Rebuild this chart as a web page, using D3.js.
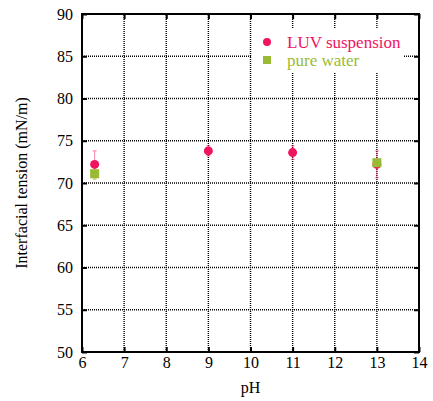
<!DOCTYPE html>
<html><head><meta charset="utf-8">
<script src="https://cdn.jsdelivr.net/npm/d3@7"></script>
<style>body{margin:0;background:#fff}svg{display:block}</style>
</head><body><svg id="c" width="433" height="401" font-family="'Liberation Serif', 'Times New Roman', Times, serif"></svg>
<script>
const xTicks = [6,7,8,9,10,11,12,13,14];
const yTicks = [50,55,60,65,70,75,80,85,90];
const luvPH = [6.3, 9, 11, 13];
const luvVal = [72.2, 73.8, 73.6, 72.2];
const luvErr = [1.6, 0.6, 0.8, 1.6];
const waterPH = [6.3, 13];
const waterVal = [71.1, 72.4];
const waterErr = [0.7, 0.4];
const seriesNames = ["LUV suspension", "pure water"];
const colors = ["#f0145f", "#99bb33"];
const FF = "'Liberation Serif', 'Times New Roman', Times, serif";

const svg = d3.select("#c");
const m = {l:82, r:14, t:14, b:49};
const W = 433, H = 401;
const x = d3.scaleLinear().domain([6,14]).range([m.l, W-m.r]);
const y = d3.scaleLinear().domain([50,90]).range([H-m.b, m.t]);

// grid
const g = svg.append("g");
g.selectAll(".gx").data(xTicks.slice(1,-1)).enter().append("line")
  .attr("x1",d=>x(d)).attr("x2",d=>x(d)).attr("y1",y(50)).attr("y2",y(90))
  .attr("stroke","#000").attr("stroke-width",1.4).attr("stroke-dasharray","1,1");
g.selectAll(".gy").data(yTicks.slice(1,-1)).enter().append("line")
  .attr("x1",x(6)).attr("x2",x(14)).attr("y1",d=>y(d)).attr("y2",d=>y(d))
  .attr("stroke","#000").attr("stroke-width",1.4).attr("stroke-dasharray","1,1");

// legend background
svg.append("rect").attr("x",252).attr("y",29).attr("width",152).attr("height",44).attr("fill","#fff");

// axes
const tk = 5;
function fixAxis(a){ a.select(".domain").remove(); a.attr("font-family",FF); }
svg.append("g").attr("transform",`translate(0,${y(50)})`)
  .call(d3.axisBottom(x).tickValues(xTicks).tickSize(-tk).tickPadding(5).tickSizeOuter(0))
  .call(fixAxis);
svg.append("g").attr("transform",`translate(0,${y(90)})`)
  .call(d3.axisTop(x).tickValues(xTicks).tickSize(-tk).tickFormat("").tickSizeOuter(0))
  .call(fixAxis);
svg.append("g").attr("transform",`translate(${x(6)},0)`)
  .call(d3.axisLeft(y).tickValues(yTicks).tickSize(-tk).tickPadding(9).tickSizeOuter(0))
  .call(fixAxis);
svg.append("g").attr("transform",`translate(${x(14)},0)`)
  .call(d3.axisRight(y).tickValues(yTicks).tickSize(-tk).tickFormat("").tickSizeOuter(0))
  .call(fixAxis);
svg.selectAll(".tick line").attr("stroke","#000").attr("stroke-width",2);
svg.selectAll(".tick text").attr("font-size",16).attr("fill","#000").attr("font-family",FF);
svg.append("rect").attr("x",x(6)).attr("y",y(90)).attr("width",x(14)-x(6)).attr("height",y(50)-y(90))
  .attr("fill","none").attr("stroke","#000").attr("stroke-width",2);

// error bars
function errBars(px, vals, errs, col){
  const eg = svg.append("g");
  px.forEach((p,i)=>{
    eg.append("line").attr("x1",x(p)).attr("x2",x(p)).attr("y1",y(vals[i]-errs[i])).attr("y2",y(vals[i]+errs[i]))
      .attr("stroke",col).attr("stroke-width",1).attr("opacity",0.5);
    [vals[i]-errs[i], vals[i]+errs[i]].forEach(v=>{
      eg.append("line").attr("x1",x(p)-2).attr("x2",x(p)+2).attr("y1",y(v)).attr("y2",y(v))
        .attr("stroke",col).attr("stroke-width",1).attr("opacity",0.5);
    });
  });
}
errBars(luvPH, luvVal, luvErr, colors[0]);
errBars(waterPH, waterVal, waterErr, colors[1]);

svg.append("g").selectAll("circle").data(luvPH).enter().append("circle")
  .attr("cx",d=>x(d)).attr("cy",(d,i)=>y(luvVal[i])).attr("r",4.5).attr("fill",colors[0]);
svg.append("g").selectAll("rect").data(waterPH).enter().append("rect")
  .attr("x",d=>x(d)-4.5).attr("y",(d,i)=>y(waterVal[i])-4.5).attr("width",9).attr("height",9).attr("fill",colors[1]);

// legend
svg.append("circle").attr("cx",267).attr("cy",42).attr("r",4).attr("fill",colors[0]);
svg.append("rect").attr("x",263).attr("y",56).attr("width",8).attr("height",8).attr("fill",colors[1]);
svg.append("text").attr("x",287).attr("y",48).attr("font-size",17).attr("font-family",FF).attr("fill",colors[0]).text(seriesNames[0]);
svg.append("text").attr("x",287).attr("y",66).attr("font-size",17).attr("font-family",FF).attr("fill",colors[1]).text(seriesNames[1]);

// axis titles
svg.append("text").attr("x",(x(6)+x(14))/2).attr("y",393).attr("text-anchor","middle").attr("font-size",16).attr("font-family",FF).text("pH");
svg.append("text").attr("transform",`translate(27,${(y(50)+y(90))/2}) rotate(-90)`).attr("text-anchor","middle").attr("font-size",16).attr("font-family",FF).text("Interfacial tension (mN/m)");
</script></body></html>
